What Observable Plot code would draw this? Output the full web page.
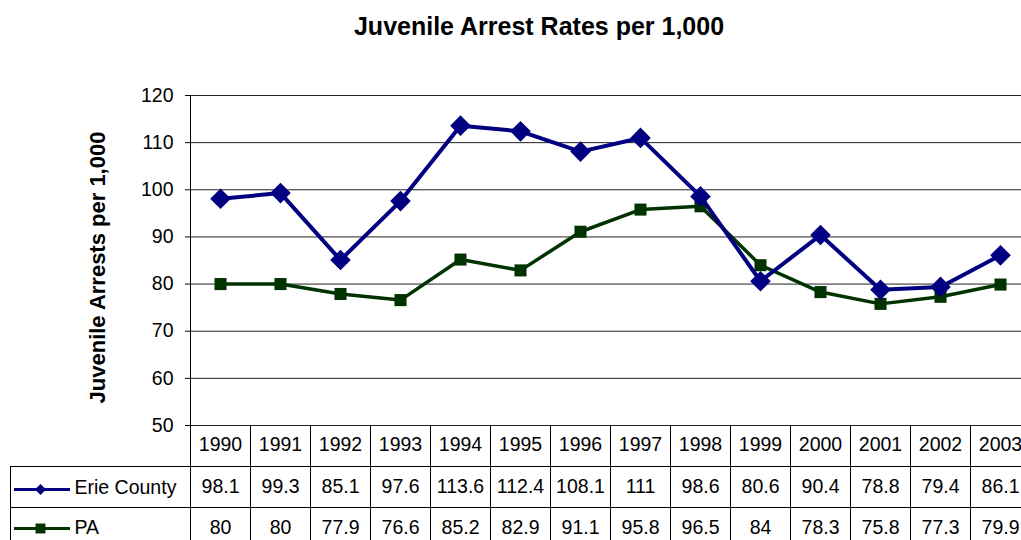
<!DOCTYPE html>
<html>
<head>
<meta charset="utf-8">
<script src="https://cdn.jsdelivr.net/npm/d3@7"></script>
<script src="https://cdn.jsdelivr.net/npm/@observablehq/plot@0.6"></script>
<style>
  html, body { margin: 0; padding: 0; background: #fff; }
  svg { display: block; }
</style>
</head>
<body>
<div id="chart"></div>
<script>
const title = "Juvenile Arrest Rates per 1,000";
const yLabel = "Juvenile Arrests per 1,000";
const years = [1990, 1991, 1992, 1993, 1994, 1995, 1996, 1997, 1998, 1999, 2000, 2001, 2002, 2003];
const erieName = "Erie County";
const erie = [98.1, 99.3, 85.1, 97.6, 113.6, 112.4, 108.1, 111, 98.6, 80.6, 90.4, 78.8, 79.4, 86.1];
const paName = "PA";
const pa = [80, 80, 77.9, 76.6, 85.2, 82.9, 91.1, 95.8, 96.5, 84, 78.3, 75.8, 77.3, 79.9];
const yTicks = [50, 60, 70, 80, 90, 100, 110, 120];

const navy = "#000080";
const green = "#003300";
const colW = 60;
const left = 190;
const fs = 19.5;

const chart = Plot.plot({
  width: 1021,
  height: 540,
  marginLeft: left,
  marginRight: 0,
  marginTop: 95,
  marginBottom: 115,
  style: { fontFamily: "'Liberation Sans', Arial, sans-serif", fontSize: fs + "px", color: "#000", background: "#fff" },
  x: { type: "linear", domain: [years[0] - 0.5, years[years.length - 1] + 0.5], range: [left, left + colW * years.length], axis: null },
  y: { domain: [50, 120] },
  marks: [
    // gridlines
    Plot.ruleY(yTicks, { stroke: "#222", strokeWidth: 1 }),
    Plot.axisY(yTicks, { tickSize: 5, tickPadding: 12, fontSize: fs, label: null, stroke: "#000" }),
    // left axis line / first table column line
    Plot.ruleX([years[0] - 0.5], { stroke: "#000", insetBottom: -115 }),
    // table column lines
    Plot.ruleX(years.map(y => y + 0.5), { stroke: "#000", insetTop: 330, insetBottom: -115 }),
    // table row lines
    Plot.ruleY([50], { dy: 41, insetLeft: -180, stroke: "#000" }),
    Plot.ruleY([50], { dy: 82, insetLeft: -180, stroke: "#000" }),
    Plot.ruleX([years[0] - 0.5], { dx: -180, insetTop: 371, insetBottom: -115, stroke: "#000" }),
    // series
    Plot.lineY(pa, { x: (d, i) => years[i], y: d => d, stroke: green, strokeWidth: 3.5 }),
    Plot.dot(pa, { x: (d, i) => years[i], y: d => d, symbol: "square", r: 6.8, fill: green, stroke: "none" }),
    Plot.lineY(erie, { x: (d, i) => years[i], y: d => d, stroke: navy, strokeWidth: 4 }),
    Plot.dot(erie, { x: (d, i) => years[i], y: d => d, symbol: "diamond2", r: 9.3, fill: navy, stroke: "none" }),
    // table text
    Plot.text(years, { x: d => d, text: d => String(d), frameAnchor: "bottom", lineAnchor: "middle", dy: 19, fontSize: fs }),
    Plot.text(years, { x: d => d, text: (d, i) => String(erie[i]), frameAnchor: "bottom", lineAnchor: "middle", dy: 61, fontSize: fs }),
    Plot.text(years, { x: d => d, text: (d, i) => String(pa[i]), frameAnchor: "bottom", lineAnchor: "middle", dy: 102, fontSize: fs }),
    // legend keys in table
    Plot.ruleY([50], { dy: 64, insetLeft: -176, insetRight: 951, stroke: navy, strokeWidth: 3 }),
    Plot.dot([erieName], { frameAnchor: "bottom-left", dx: -150, dy: 64, symbol: "diamond2", r: 5, fill: navy, stroke: "none" }),
    Plot.text([erieName], { text: d => d, frameAnchor: "bottom-left", dx: -116, dy: 62, textAnchor: "start", lineAnchor: "middle", fontSize: fs }),
    Plot.ruleY([50], { dy: 103, insetLeft: -176, insetRight: 951, stroke: green, strokeWidth: 3 }),
    Plot.dot([paName], { frameAnchor: "bottom-left", dx: -150, dy: 103, symbol: "square", r: 5.6, fill: green, stroke: "none" }),
    Plot.text([paName], { text: d => d, frameAnchor: "bottom-left", dx: -116, dy: 102, textAnchor: "start", lineAnchor: "middle", fontSize: fs }),
    // title and y label
    Plot.text([title], { text: d => d, frameAnchor: "top", lineAnchor: "middle", textAnchor: "middle", dx: -67, dy: -69, fontWeight: "bold", fontSize: 25 }),
    Plot.text([yLabel], { text: d => d, frameAnchor: "left", lineAnchor: "middle", textAnchor: "middle", dx: -93, dy: 7, rotate: -90, fontWeight: "bold", fontSize: 22 })
  ]
});
document.getElementById("chart").appendChild(chart);
</script>
</body>
</html>
